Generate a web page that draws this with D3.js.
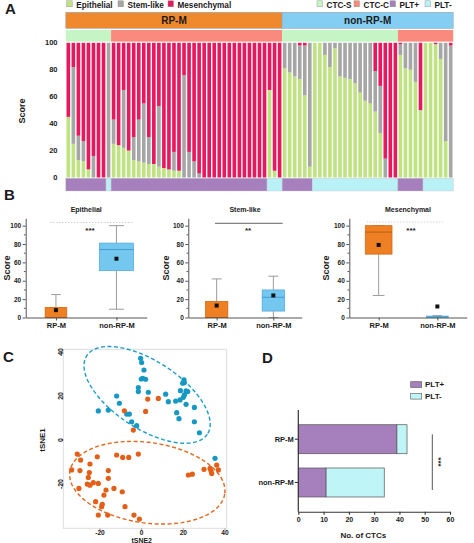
<!DOCTYPE html>
<html><head><meta charset="utf-8">
<script src="https://cdn.jsdelivr.net/npm/d3@7"></script>
<style>
body{margin:0;background:#fff}
svg text{font-family:"Liberation Sans",Arial,sans-serif;font-weight:bold;fill:#1a1a1a}
</style>
</head><body>
<svg id="chart" width="474" height="543"></svg>
<script>
// ================= DATA =================
// Panel A: per-CTC composition scores (77 CTCs)
const compKeys = ["Epithelial", "Stem-like", "Mesenchymal"];
const epithelial = [45,25,13,12,6,0,0,0,0,25,24,22,20,13,12,11,10,10,8,7,6,5,5,0,0,0,0,0,0,0,0,0,0,0,0,0,0,0,0,0,65,5,0,
  81,78,75,73,61,8,100,100,91,82,96,75,74,73,70,63,57,55,49,33,0,0,0,91,81,80,71,50,100,100,99,88,27,0];
const stemLike = [0,57,18,15,0,16,0,0,100,18,0,43,0,17,31,44,20,0,45,0,0,14,0,76,19,12,3,0,0,0,0,0,0,0,0,0,0,0,0,0,0,0,0,
  19,22,25,25,37,92,0,0,9,18,4,25,26,27,30,37,43,45,30,35,14,0,0,8,19,20,29,0,0,0,0,12,73,98];
const mesenchymal = [55,18,69,73,94,84,100,100,0,57,76,35,80,70,57,45,70,90,47,93,94,81,95,24,81,88,97,100,100,100,100,100,100,100,100,100,100,100,100,100,35,95,100,
  0,0,0,2,2,0,0,0,0,0,0,0,0,0,0,0,0,0,21,32,86,100,100,1,0,0,0,50,0,0,1,0,0,2];
const groups = ["RP-M", "non-RP-M"];
const groupCounts = [43, 34];
const ctcRuns = ["CTC-S", "CTC-C", "CTC-S", "CTC-C"];
const ctcRunLengths = [9, 34, 23, 11];
const pltRuns = ["PLT+", "PLT-", "PLT+", "PLT-", "PLT+", "PLT-", "PLT+", "PLT-"];
const pltRunLengths = [8, 1, 31, 3, 6, 17, 5, 6];
const scoreTicks = [0, 20, 40, 60, 80, 100];

// Panel B: box statistics [RP-M, non-RP-M]
const boxTitles = ["Epithelial", "Stem-like", "Mesenchymal"];
const boxMin    = [[0, 9],   [0, 0],    [24, 0]];
const boxQ1     = [[0, 51],  [0, 7],    [69, 0]];
const boxMedian = [[0, 74],  [0, 22],   [93, 0.6]];
const boxQ3     = [[11, 81], [17.5, 30],[100, 1.5]];
const boxMax    = [[25, 100],[42, 45],  [100, 2]];
const boxMean   = [[8, 64],  [13, 24],  [79, 12]];
const sigLabels = ["***", "**", "***"];

// Panel C: tSNE coordinates
const blueX = [-0.5,0,1.1,0.5,1.9,-0.2,-1.6,-1.6,3.2,-12,-10.7,-20.8,-16,-7.2,-5.9,-4.8,-2.4,11.5,12.8,16.3,18.4,18.6,19.7,20.3,20.5,21.3,22.1,20.5,20,21.3,16.8,17.9,25.3,25.3,27.7,35.2];
const blueY = [37.1,35.2,31.8,28,27.6,27.7,23.8,22,21.7,20,16.7,13.2,13.6,11.8,11.8,8.3,6.5,20.8,17.4,17.7,18.2,22.4,25.8,27.3,26.1,22.3,22,20.5,19.4,16.2,12.4,9.7,14.8,8.3,3.3,-8.3];
const orangeX = [2.9,8,-8.3,1.9,-4,-30.9,-33.6,-29.3,-29.6,-21.3,-24.8,-25.1,-25.6,-24.8,-23.2,-20.8,-26.1,-30.1,-16,-16,-17.1,-18.1,-13.3,-12,-9.1,-6.2,-1.6,-9.3,-22.1,-18.9,-19.2,-8,-20.8,-16.3,-3.7,-1.1,29.9,32.8,33.3,33.6,36,36.8,22.4,24.3];
const orangeY = [18.6,18.9,13.3,13,4.5,-6.4,-13.6,-9.1,-13.9,-7.6,-10.9,-14.8,-17,-20.5,-19.4,-19.7,-20,-22,-13.9,-17.4,-22.7,-25,-22,-6.8,-7.9,-7.9,-6.4,-23.5,-28,-29.2,-30.3,-30.3,-34.1,-34.1,-34.1,-35.9,-13.3,-12.9,-14.1,-15.2,-11.4,-13.6,-15.9,-15.5];
// confidence ellipses (data units): [blue, orange]
const ellCx = [2.6, 2.7], ellCy = [20.5, -19.4];
const ellA = [34, 37.5], ellB = [15.6, 18.3], ellAngle = [-30.8, -7.4];
const tsneXTicks = [-20, 0, 20, 40], tsneYTicks = [-20, 0, 20, 40];

// Panel D: counts
const pltPos = [39, 11];
const pltNeg = [4, 23];
const ctcTicks = [0, 10, 20, 30, 40, 50, 60];

// ================= STYLE =================
const compColors = {"Epithelial":"#bfe383","Stem-like":"#a6a6a6","Mesenchymal":"#e8185e"};
const groupColors = {"RP-M":"#f0882e","non-RP-M":"#84cdf3"};
const ctcColors = {"CTC-S":"#c5f5c5","CTC-C":"#fb8a7e"};
const pltColors = {"PLT+":"#a680bd","PLT-":"#b8f1f6"};

const svg = d3.select("#chart");

// Panel letters
[["A",5,14],["B",4,200],["C",3,362],["D",262,363]].forEach(([t,x,y]) =>
  svg.append("text").attr("x",x).attr("y",y).attr("font-size",15).text(t));

// ================= PANEL A =================
(function(){
  const n = epithelial.length;
  const x = d3.scaleBand().domain(d3.range(n)).range([66.5, 452.5]).paddingInner(0.28).paddingOuter(0);
  const y = d3.scaleLinear().domain([0,100]).range([177.5, 42.8]);
  const half = x.step()*0.14;
  const rows = d3.range(n).map(i => ({i, "Epithelial":epithelial[i], "Stem-like":stemLike[i], "Mesenchymal":mesenchymal[i]}));
  const series = d3.stack().keys(compKeys)(rows);
  const g = svg.append("g");
  g.selectAll("g.s").data(series).join("g").attr("fill", d => compColors[d.key])
    .selectAll("rect").data(d => d).join("rect")
    .attr("x", d => x(d.data.i)).attr("width", x.bandwidth())
    .attr("y", d => y(d[1])).attr("height", d => Math.max(0, y(d[0]) - y(d[1])));

  function runs(labels, lens){ let s=0; return labels.map((l,k)=>{const r={label:l,start:s,n:lens[k]}; s+=lens[k]; return r;}); }
  const segX0 = r => x(r.start) - half, segX1 = r => x(r.start + r.n - 1) + x.bandwidth() + half;
  // group header
  const gr = runs(groups, groupCounts);
  g.selectAll("rect.grp").data(gr).join("rect").attr("class","grp")
    .attr("x", segX0).attr("width", r => segX1(r)-segX0(r)).attr("y",12.3).attr("height",16)
    .attr("fill", r => groupColors[r.label]).attr("stroke","#9aa6ad").attr("stroke-width",0.6);
  g.selectAll("text.grp").data(gr).join("text").attr("class","grp")
    .attr("x", r => (segX0(r)+segX1(r))/2).attr("y",24).attr("text-anchor","middle")
    .attr("font-size",10).text(r => r.label);
  // CTC strip
  g.selectAll("rect.ctc").data(runs(ctcRuns, ctcRunLengths)).join("rect").attr("class","ctc")
    .attr("x", segX0).attr("width", r => segX1(r)-segX0(r)).attr("y",30).attr("height",11.6)
    .attr("fill", r => ctcColors[r.label]);
  // PLT strip
  g.selectAll("rect.plt").data(runs(pltRuns, pltRunLengths)).join("rect").attr("class","plt")
    .attr("x", segX0).attr("width", r => segX1(r)-segX0(r)).attr("y",178.2).attr("height",12.8)
    .attr("fill", r => pltColors[r.label]).attr("stroke","#c9c3cf").attr("stroke-width",0.4);
  // y tick labels
  g.selectAll("text.yt").data(scoreTicks).join("text").attr("class","yt")
    .attr("x",57.5).attr("y", d => y(d)+2.6).attr("text-anchor","end").attr("font-size",7.5).text(d=>d);
  g.append("text").attr("transform","translate(25,111) rotate(-90)").attr("text-anchor","middle")
    .attr("font-size",9).text("Score");
  // legends
  const legL = [["Epithelial",compColors["Epithelial"],66.7],["Stem-like",compColors["Stem-like"],118],["Mesenchymal",compColors["Mesenchymal"],168]];
  const legR = [["CTC-S",ctcColors["CTC-S"],317],["CTC-C",ctcColors["CTC-C"],354],["PLT+",pltColors["PLT+"],390],["PLT-",pltColors["PLT-"],425]];
  legL.concat(legR).forEach(([t,c,lx]) => {
    g.append("rect").attr("x",lx).attr("y",0.8).attr("width",5.5).attr("height",6).attr("fill",c).attr("stroke","#8a8a8a").attr("stroke-width",0.4);
    g.append("text").attr("x",lx+9.5).attr("y",7.6).attr("font-size",8.2).text(t);
  });
})();

// ================= PANEL B =================
const boxLayout = [
  {x0:25.7, x1:146.7, widths:[21.6,34], sig:{x0:50,x1:133,y:222.5,dash:"1.5,1.5",color:"#cfcfcf"}, sigX:90, scoreX:9.6},
  {x0:188.3, x1:301.7, widths:[22.4,22.4], sig:{x0:215,x1:282.7,y:223.3,dash:null,color:"#666"}, sigX:248, scoreX:169.3},
  {x0:349.3, x1:466.7, widths:[26.7,21.7], sig:{x0:367,x1:443,y:222,dash:"1.5,1.5",color:"#d6d6d6"}, sigX:411, scoreX:329.3}
];
const boxFill = ["#ef7f23", "#74c7ef"], boxStroke = ["#d46a14", "#56abdc"], boxMed = ["#b85812", "#3d98cf"];
boxTitles.forEach((title, k) => {
  const L = boxLayout[k];
  const g = svg.append("g");
  const y = d3.scaleLinear().domain([0,108]).range([317.5,218.3]);
  const x = d3.scalePoint().domain(groups).range([L.x0, L.x1]).padding(0.5);
  // title
  g.append("text").attr("x",(L.x0+L.x1)/2).attr("y",212).attr("text-anchor","middle").attr("font-size",7).text(title);
  // significance
  g.append("line").attr("x1",L.sig.x0).attr("x2",L.sig.x1).attr("y1",L.sig.y).attr("y2",L.sig.y)
    .attr("stroke",L.sig.color).attr("stroke-width",1).attr("stroke-dasharray",L.sig.dash);
  g.append("text").attr("x",L.sigX).attr("y",232.5).attr("text-anchor","middle").attr("font-size",8).attr("fill","#333").text(sigLabels[k]);
  // boxes
  groups.forEach((grp, j) => {
    const cx = x(grp), w = L.widths[j];
    const wc = "#9c9c9c";
    g.append("line").attr("x1",cx).attr("x2",cx).attr("y1",y(boxMin[k][j])).attr("y2",y(boxQ1[k][j])).attr("stroke",wc);
    g.append("line").attr("x1",cx).attr("x2",cx).attr("y1",y(boxQ3[k][j])).attr("y2",y(boxMax[k][j])).attr("stroke",wc);
    [boxMin[k][j], boxMax[k][j]].forEach(v =>
      g.append("line").attr("x1",cx-w*0.22).attr("x2",cx+w*0.22).attr("y1",y(v)).attr("y2",y(v)).attr("stroke",wc));
    g.append("rect").attr("x",cx-w/2).attr("width",w).attr("y",y(boxQ3[k][j]))
      .attr("height",Math.max(0.8, y(boxQ1[k][j])-y(boxQ3[k][j])))
      .attr("fill",boxFill[j]).attr("stroke",boxStroke[j]).attr("stroke-width",0.8);
    g.append("line").attr("x1",cx-w/2).attr("x2",cx+w/2).attr("y1",y(boxMedian[k][j])).attr("y2",y(boxMedian[k][j]))
      .attr("stroke",boxMed[j]).attr("stroke-width",0.9);
    g.append("rect").attr("x",cx-2).attr("y",y(boxMean[k][j])-2).attr("width",4).attr("height",4).attr("fill","#111");
  });
  // axes
  const ya = g.append("g").attr("transform",`translate(${L.x0},0)`)
    .call(d3.axisLeft(y).tickValues(scoreTicks).tickSize(3).tickSizeOuter(0).tickPadding(1.5));
  ya.append("g").selectAll("line").data([10,30,50,70,90]).join("line")
    .attr("x1",-1.8).attr("x2",0).attr("y1",d=>y(d)).attr("y2",d=>y(d)).attr("stroke","#555");
  const xa = g.append("g").attr("transform","translate(0,317.5)")
    .call(d3.axisBottom(x).tickSize(3).tickSizeOuter(0).tickPadding(2));
  [ya, xa].forEach(a => { a.selectAll("path,line").attr("stroke","#555"); a.selectAll("text").attr("font-family",null).attr("fill","#1a1a1a"); });
  ya.selectAll("text").attr("font-size",6.5);
  xa.selectAll("text").attr("font-size",7.5);
  g.append("text").attr("transform",`translate(${L.scoreX},268) rotate(-90)`).attr("text-anchor","middle").attr("font-size",9).text("Score");
});

// ================= PANEL C =================
(function(){
  const g = svg.append("g");
  const x = d3.scaleLinear().domain([-37.6, 40.8]).range([63.3, 226.7]);
  const y = d3.scaleLinear().domain([-40.1, 41.2]).range([528.3, 349.3]);
  g.append("rect").attr("x",63.3).attr("y",349.3).attr("width",163.4).attr("height",179)
    .attr("fill","none").attr("stroke","#dedede").attr("stroke-width",1);
  // ticks
  g.selectAll("line.xt").data(tsneXTicks).join("line").attr("x1",d=>x(d)).attr("x2",d=>x(d)).attr("y1",528.3).attr("y2",530.3).attr("stroke","#999");
  g.selectAll("line.yt").data(tsneYTicks).join("line").attr("y1",d=>y(d)).attr("y2",d=>y(d)).attr("x1",61.1).attr("x2",63.3).attr("stroke","#999");
  g.selectAll("text.xt").data(tsneXTicks).join("text").attr("x",d=>x(d)).attr("y",535).attr("text-anchor","middle")
    .attr("font-size",6.6).attr("fill","#333").text(d=>d);
  g.selectAll("text.yt").data(tsneYTicks).join("text").attr("transform",d=>`translate(62.5,${y(d)}) rotate(-90)`)
    .attr("text-anchor","middle").attr("font-size",7).attr("fill","#333").text(d=>d);
  g.append("text").attr("x",141.7).attr("y",542.6).attr("text-anchor","middle").attr("font-size",7).text("tSNE2");
  g.append("text").attr("transform","translate(44.6,440) rotate(-90)").attr("text-anchor","middle").attr("font-size",8).text("tSNE1");
  // ellipses
  const ellColors = ["#1a9cc8", "#e1661e"];
  const line = d3.line().x(p=>x(p[0])).y(p=>y(p[1])).curve(d3.curveLinearClosed);
  ellCx.forEach((cx,k) => {
    const th = ellAngle[k]*Math.PI/180;
    const pts = d3.range(0, 2*Math.PI, Math.PI/60).map(t => {
      const ex = ellA[k]*Math.cos(t), ey = ellB[k]*Math.sin(t);
      return [cx + ex*Math.cos(th) - ey*Math.sin(th), ellCy[k] + ex*Math.sin(th) + ey*Math.cos(th)];
    });
    g.append("path").attr("d", line(pts)).attr("fill","none").attr("stroke",ellColors[k])
      .attr("stroke-width",1.4).attr("stroke-dasharray","4,2.5");
  });
  // points
  g.selectAll("circle.b").data(blueX).join("circle").attr("class","b")
    .attr("cx",d=>x(d)).attr("cy",(d,i)=>y(blueY[i])).attr("r",2.6).attr("fill","#1598c4");
  g.selectAll("circle.o").data(orangeX).join("circle").attr("class","o")
    .attr("cx",d=>x(d)).attr("cy",(d,i)=>y(orangeY[i])).attr("r",2.6).attr("fill","#e35f17");
})();

// ================= PANEL D =================
(function(){
  const g = svg.append("g");
  const x = d3.scaleLinear().domain([0,60]).range([298.3, 450]);
  const y = d3.scaleBand().domain(groups).range([410, 511.7]).paddingInner(0.33).paddingOuter(0.34);
  const data = groups.map((gname,i) => ({g:gname, pos:pltPos[i], neg:pltNeg[i]}));
  g.selectAll("rect.p").data(data).join("rect").attr("x",x(0)).attr("y",d=>y(d.g))
    .attr("width",d=>x(d.pos)-x(0)).attr("height",y.bandwidth()).attr("fill",pltColors["PLT+"]).attr("stroke","#555").attr("stroke-width",0.7);
  g.selectAll("rect.n").data(data).join("rect").attr("x",d=>x(d.pos)).attr("y",d=>y(d.g))
    .attr("width",d=>x(d.pos+d.neg)-x(d.pos)).attr("height",y.bandwidth()).attr("fill","#bff5f6").attr("stroke","#555").attr("stroke-width",0.7);
  const xa = g.append("g").attr("transform","translate(0,511.7)").call(d3.axisBottom(x).tickValues(ctcTicks).tickSize(3).tickSizeOuter(0).tickPadding(2));
  const ya = g.append("g").attr("transform","translate(298.3,0)").call(d3.axisLeft(y).tickSize(3.5).tickSizeOuter(0).tickPadding(1));
  ya.select(".domain").remove();
  g.append("line").attr("x1",298.3).attr("x2",298.3).attr("y1",410).attr("y2",511.7).attr("stroke","#333").attr("stroke-width",1.2);
  [xa, ya].forEach(a => { a.selectAll("path,line").attr("stroke","#333").attr("stroke-width",1.1); a.selectAll("text").attr("font-family",null).attr("fill","#1a1a1a"); });
  xa.selectAll("text").attr("font-size",7);
  ya.selectAll("text").attr("font-size",7.5);
  g.append("text").attr("x",363.3).attr("y",538).attr("text-anchor","middle").attr("font-size",8).text("No. of CTCs");
  // significance
  g.append("line").attr("x1",432.3).attr("x2",432.3).attr("y1",434.3).attr("y2",490).attr("stroke","#555");
  g.append("text").attr("transform","translate(435.5,462) rotate(90)").attr("text-anchor","middle").attr("font-size",8).text("***");
  // legend
  [["PLT+",pltColors["PLT+"],381.7],["PLT-","#bff5f6",393.3]].forEach(([t,c,ly]) => {
    g.append("rect").attr("x",410.7).attr("y",ly).attr("width",11).attr("height",5.8).attr("fill",c).attr("stroke","#555").attr("stroke-width",0.6);
    g.append("text").attr("x",425).attr("y",ly+5.6).attr("font-size",8).attr("font-weight","normal").attr("fill","#333").text(t);
  });
})();
</script>
</body></html>
